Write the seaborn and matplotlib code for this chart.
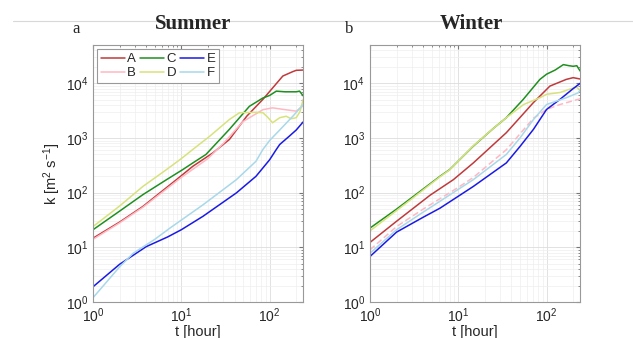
import matplotlib
matplotlib.use('Agg')
import matplotlib.pyplot as plt
import pandas as pd
import seaborn as sns
from matplotlib.lines import Line2D

# Summer panel (t in hours, k in m^2 s^-1)
sA_t = [1, 2, 3.67, 8.8, 13.5, 22.8, 35, 55, 84, 141, 180, 200, 240]
sA_k = [14.7, 29, 56, 173, 304, 535, 940, 2500, 5100, 13600, 16200, 17300, 17500]
sB_t = [1, 2, 3.67, 10, 20, 30, 50, 84, 108, 150, 200, 240]
sB_k = [14, 28, 54, 190, 420, 800, 2000, 3300, 3560, 3300, 3100, 3900]
sC_t = [1, 2, 3.67, 6.8, 10.4, 13.5, 19, 35, 59, 84, 100, 119, 150, 200, 218, 240]
sC_k = [21, 46, 92, 173, 265, 350, 500, 1440, 3800, 5400, 6000, 7200, 7000, 7000, 7200, 5900]
sD_t = [1, 2, 3.67, 6.8, 10, 13.5, 21, 35, 45.6, 70, 84, 95, 108, 130, 154, 175, 200, 220, 240]
sD_k = [24, 57, 130, 265, 420, 618, 1080, 2180, 2900, 2950, 2900, 2400, 1900, 2350, 2500, 2250, 2350, 3000, 5100]
sE_t = [1, 2, 4, 7, 10, 17.6, 42, 70, 100, 119, 130, 167, 200, 240]
sE_k = [1.9, 4.9, 10.3, 15.5, 21, 37, 99, 199, 400, 617, 760, 1080, 1400, 1970]
sF_t = [1, 2, 2.85, 5, 7.4, 17.6, 42, 70, 84, 100, 130, 183, 240]
sF_k = [1.2, 4.4, 7.8, 14, 22.4, 60, 173, 375, 620, 900, 1400, 2500, 4100]

# Winter panel
wA_t = [1, 2, 4.8, 8.8, 14.8, 35, 71, 109, 167, 200, 240]
wA_k = [12.3, 30, 90, 173, 350, 1250, 4450, 8900, 11800, 12700, 12000]
wB_t = [1, 2, 4, 10, 14.8, 35, 71, 100, 142, 228, 240]
wB_k = [9, 24, 50, 125, 190, 610, 2300, 3330, 4100, 5100, 5200]
wC_t = [1, 2, 3, 6.2, 8, 14.8, 25, 35, 54.5, 84, 100, 125, 155, 180, 200, 220, 240]
wC_k = [22.5, 50, 82, 199, 265, 710, 1500, 2350, 5100, 11800, 14700, 17500, 22000, 21000, 20500, 21000, 16800]
wD_t = [1, 2, 3, 6.2, 8, 14.8, 25, 35, 55, 84, 100, 142, 200, 218, 240]
wD_k = [20, 47, 78, 195, 262, 720, 1500, 2350, 4100, 5450, 6300, 6800, 8200, 8500, 7500]
wE_t = [1, 2, 4, 6.2, 10, 14.8, 35, 50, 71, 100, 142, 200, 240]
wE_k = [6.8, 19, 35.5, 52, 86, 130, 350, 700, 1440, 3330, 5100, 8000, 10000]
wF_t = [1, 2, 4, 10, 14.8, 35, 50, 71, 100, 167, 228, 240]
wF_k = [7.8, 21, 44, 115, 173, 500, 1000, 2180, 4100, 5450, 6700, 7600]

names = ['A', 'B', 'C', 'D', 'E', 'F']
colors = {'A': '#c0393b', 'B': '#ffb8c2', 'C': '#1f8f1f', 'D': '#d8e27c', 'E': '#1a1ae6', 'F': '#a8d8ea'}


def make_df(series):
    rows = []
    for n, (t, k) in zip(names, series):
        for ti, ki in zip(t, k):
            rows.append((n, ti, ki))
    return pd.DataFrame(rows, columns=['name', 't', 'k'])


df_s = make_df([(sA_t, sA_k), (sB_t, sB_k), (sC_t, sC_k), (sD_t, sD_k), (sE_t, sE_k), (sF_t, sF_k)])
df_w = make_df([(wA_t, wA_k), (wB_t, wB_k), (wC_t, wC_k), (wD_t, wD_k), (wE_t, wE_k), (wF_t, wF_k)])

sns.set_style('white')
plt.rcParams['font.family'] = ['Liberation Sans', 'DejaVu Sans']
plt.rcParams['mathtext.default'] = 'regular'

fig = plt.figure(figsize=(6.33, 3.38), dpi=100)
ax1 = fig.add_axes([0.147, 0.1065, 0.332, 0.760])
ax2 = fig.add_axes([0.5845, 0.1065, 0.332, 0.760])

fig.add_artist(Line2D([0.02, 1.0], [0.938, 0.938], color='#d8d8d8', lw=0.8))

dash_s = {n: '' for n in names}
dash_w = {n: '' for n in names}
dash_w['B'] = (4, 2)

sns.lineplot(data=df_s, x='t', y='k', hue='name', style='name', palette=colors,
             dashes=dash_s, estimator=None, sort=False, lw=1.1, ax=ax1)
sns.lineplot(data=df_w, x='t', y='k', hue='name', style='name', palette=colors,
             dashes=dash_w, estimator=None, sort=False, lw=1.1, ax=ax2, legend=False)

for ax in (ax1, ax2):
    ax.set_xscale('log')
    ax.set_yscale('log')
    ax.set_xlim(1, 240)
    ax.set_ylim(1, 5e4)
    ax.grid(True, which='major', color='#dddddd', lw=0.6)
    ax.grid(True, which='minor', color='#eeeeee', lw=0.5)
    ax.tick_params(which='both', direction='in', top=True, right=True, labelsize=10,
                   color='#777777', length=3)
    ax.tick_params(which='minor', length=1.5)
    for sp in ax.spines.values():
        sp.set_color('#999999')
        sp.set_linewidth(0.8)
    ax.set_xlabel('t [hour]', fontsize=10.5, labelpad=0)
    ax.set_ylabel('')

ax1.set_ylabel('k [m$^2$ s$^{-1}$]', fontsize=10.5, labelpad=2)

leg = ax1.legend(ncol=3, loc='upper left', fontsize=9.5, handlelength=1.8, handletextpad=0.2,
                 columnspacing=0.3, labelspacing=0.15, borderpad=0.3, fancybox=False,
                 framealpha=1, edgecolor='#999999', borderaxespad=0.3)
leg.get_frame().set_linewidth(0.8)

fig.text(0.305, 0.93, 'Summer', family='Liberation Serif', fontweight='bold', fontsize=15,
         ha='center', va='center')
fig.text(0.744, 0.93, 'Winter', family='Liberation Serif', fontweight='bold', fontsize=15,
         ha='center', va='center')
fig.text(0.12, 0.915, 'a', family='Liberation Serif', fontsize=12, ha='center', va='center')
fig.text(0.552, 0.915, 'b', family='Liberation Serif', fontsize=12, ha='center', va='center')

fig.savefig('out.png', dpi=100)
